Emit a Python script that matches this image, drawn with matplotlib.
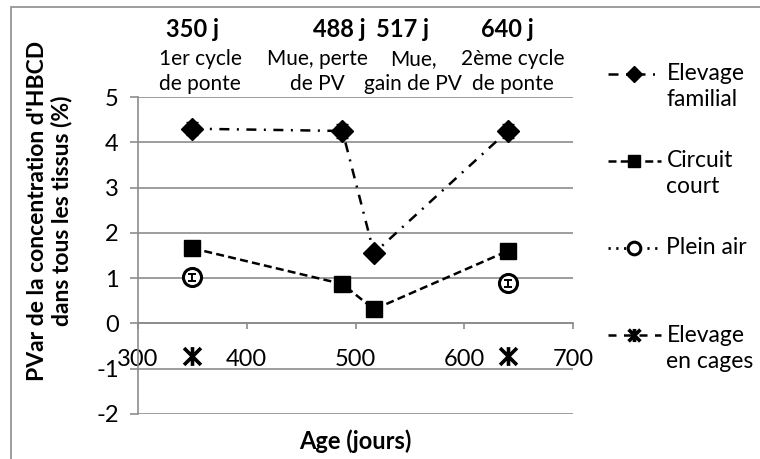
import numpy as np
import matplotlib
matplotlib.use('Agg')
import matplotlib.pyplot as plt
from matplotlib.patches import Rectangle
from matplotlib.path import Path
from matplotlib.legend_handler import HandlerLine2D

plt.rcParams['font.family'] = ['Lato', 'DejaVu Sans']
plt.rcParams['axes.unicode_minus'] = False

age = [350, 488, 517, 640]
familial = [4.3, 4.25, 1.55, 4.25]
familial_err = [0.15, 0.15, 0.1, 0.15]
circuit = [1.66, 0.87, 0.31, 1.6]
circuit_err = [0.08, 0.08, 0.08, 0.08]
plein_air = [1.02, np.nan, np.nan, 0.89]
plein_air_err = [0.08, 0, 0, 0.08]
cages = [-0.72, np.nan, np.nan, -0.72]

jours = ['350 j', '488 j', '517 j', '640 j']
jours_x = [350, 485, 543, 640]
stades = ['1er cycle\nde ponte', 'Mue, perte\nde PV', 'Mue,\ngain de PV', '2ème cycle\nde ponte']
stade_x = [357, 465, 553, 645]

grey = '#8c8c8c'

# asterisk: X with a vertical bar
star = Path([(0, -1), (0, 1), (-0.9, -0.9), (0.9, 0.9), (-0.9, 0.9), (0.9, -0.9)],
            [Path.MOVETO, Path.LINETO] * 3)


class FirstLine(HandlerLine2D):
    # put the legend sample in front of the first line of the label
    def create_artists(self, *args, **kw):
        arts = super().create_artists(*args, **kw)
        for a in arts:
            a.set_ydata(np.asarray(a.get_ydata()) + 9.5)
        return arts


fig = plt.figure(figsize=(7.6, 4.59), dpi=100)
ax = fig.add_axes([138/760, 45/459, 435/760, 317/459])

fig.patches.append(Rectangle((11/760, -0.1), 1.1, 1 - 7/459 + 0.1, transform=fig.transFigure,
                             fill=False, edgecolor=grey, lw=1.2, zorder=0))

e1 = ax.errorbar(age, familial, yerr=familial_err, color='black', marker='D', markersize=11,
                 linestyle=(0, (4, 3, 0.8, 3)), lw=1.8, capsize=4, elinewidth=1.2, zorder=4)
e2 = ax.errorbar(age, circuit, yerr=circuit_err, color='black', marker='s', markersize=11.5,
                 linestyle=(0, (3.2, 1.7)), lw=1.8, capsize=3, elinewidth=1.2, zorder=4)
e3 = ax.errorbar(age, plein_air, color='black', marker='o', markersize=13,
                 markerfacecolor='white', markeredgewidth=2.2, linestyle=(0, (0.8, 2)), lw=2,
                 zorder=4)
ax.errorbar(age, plein_air, yerr=plein_air_err, fmt='none', ecolor='black', capsize=3,
            elinewidth=1.4, capthick=1.4, zorder=5)
l4, = ax.plot(age, cages, color='black', marker=star, markersize=13.5, markeredgewidth=2.6,
              linestyle=(0, (3.2, 3)), lw=1.8, zorder=4)

ax.set_xlim(300, 700)
ax.set_ylim(-2, 5)
ax.set_yticks(range(-2, 6))
ax.set_xticks(range(300, 701, 100))
ax.grid(axis='y', color=grey, lw=1.2)
ax.set_axisbelow(True)
for s in ['top', 'right']:
    ax.spines[s].set_visible(False)
ax.spines['bottom'].set_position(('data', 0))
for s in ['bottom', 'left']:
    ax.spines[s].set_color(grey)
    ax.spines[s].set_linewidth(1.2)
ax.tick_params(axis='x', direction='out', length=4.5, color=grey, width=1.2,
               labelsize=17, pad=14)
ax.tick_params(axis='y', direction='out', length=5.8, color=grey, width=1.2,
               labelsize=17, pad=8)

ax.set_ylabel("PVar de la concentration d'HBCD\ndans tous les tissus (%)",
              fontsize=16.5, fontweight='bold', linespacing=1.1)
ax.yaxis.set_label_coords(-0.152, 0.64)
ax.set_xlabel('Age (jours)', fontsize=17, fontweight='bold')
ax.xaxis.set_label_coords(0.5, -0.05)

for x, j in zip(jours_x, jours):
    ax.text(x, 6.48, j, ha='center', va='center', fontsize=17, fontweight='bold')
for x, s in zip(stade_x, stades):
    ax.text(x, 5.56, s, ha='center', va='center', fontsize=15, linespacing=1.3)

handles = [e1[0], e2[0], e3[0], l4]
labels = ['Elevage\nfamilial', 'Circuit\ncourt', 'Plein air\n', 'Elevage\nen cages']
leg = ax.legend(handles, labels, loc='upper left', bbox_to_anchor=(608/760, 1 - 63/459),
                bbox_transform=fig.transFigure, frameon=False, fontsize=16.5,
                handlelength=2.3, handletextpad=0.25, labelspacing=1.75, borderpad=0,
                borderaxespad=0, markerscale=0.7,
                handler_map={h: FirstLine() for h in handles})
for t in leg.get_texts():
    t.set_linespacing(1.3)

fig.savefig('out.png', dpi=100)
